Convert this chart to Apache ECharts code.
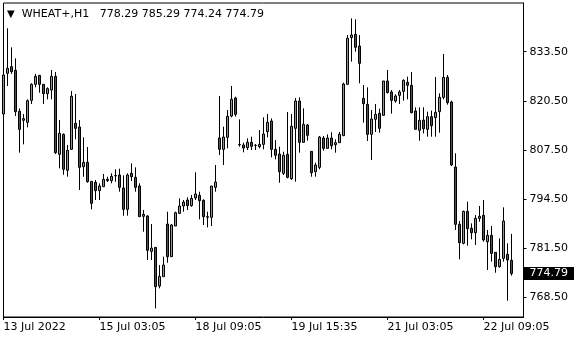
<!DOCTYPE html>
<html><head><meta charset="utf-8">
<script src="https://cdn.jsdelivr.net/npm/echarts@6/dist/echarts.min.js"></script>
<style>html,body{margin:0;padding:0;background:#fff}#c{width:580px;height:340px}</style>
</head><body><div id="c"></div>
<script>
const symbol = 'WHEAT+,H1';
const opens = [817.01,827.78,829.54,828.57,817.72,815.34,814.81,820.63,824.86,827.25,
824.86,822.39,823.36,826.98,806.34,811.63,802.10,807.66,814.54,813.57,
803.07,804.22,799.19,798.93,796.72,797.78,799.37,799.37,800.65,800.87,
797.43,791.78,801.31,800.25,797.96,789.93,790.01,780.66,781.72,771.49,
773.96,787.90,779.25,787.37,790.72,792.66,794.25,792.75,794.78,795.49,
794.16,789.84,789.66,797.60,810.66,807.66,810.84,816.48,821.25,808.95,
808.81,808.10,809.51,808.72,808.37,808.98,812.34,815.16,807.66,806.42,
801.31,806.34,799.90,813.22,820.45,809.51,814.10,807.13,801.75,802.90,
810.66,807.92,810.66,808.90,809.43,811.28,824.86,837.22,838.10,835.01,
821.16,819.57,811.63,815.60,817.19,816.66,825.75,822.84,820.45,821.95,
823.01,825.39,824.60,817.81,812.69,815.42,812.95,816.31,816.04,817.63,
821.42,826.72,820.19,802.98,787.81,782.78,791.25,786.75,785.60,789.40,
790.19,783.22,784.90,780.40,776.60,778.81,779.87,778.29];
const highs = [827.78,839.69,834.66,831.75,818.51,817.01,820.89,825.13,827.60,827.34,
824.95,824.07,828.66,828.13,815.42,811.89,808.81,823.10,822.31,815.42,
810.84,808.28,799.19,799.54,798.66,801.13,800.42,801.31,802.37,802.54,
800.78,801.31,803.95,802.90,798.66,791.60,790.28,787.90,781.72,777.04,
779.25,791.16,787.90,791.16,794.69,794.25,794.95,795.57,801.57,796.45,
794.43,791.16,797.96,803.51,821.78,813.66,818.07,824.42,821.60,815.60,
809.43,810.57,811.01,809.07,812.78,816.13,817.01,815.86,810.13,808.37,
807.04,817.54,817.01,821.25,821.42,818.51,814.37,807.13,804.13,811.19,
811.19,811.63,812.16,810.31,812.25,825.31,837.92,842.33,842.07,837.92,
824.69,824.07,818.07,819.66,818.42,825.75,828.66,823.36,822.22,823.36,
826.19,826.89,828.13,818.78,818.78,818.78,817.63,817.90,826.81,822.48,
832.89,827.34,820.54,806.60,788.69,791.43,793.81,788.07,790.28,792.66,
794.25,786.31,787.37,780.40,784.10,792.31,782.78,785.29];
const lows = [813.66,824.42,827.60,816.48,806.78,808.98,813.48,819.66,824.07,822.66,
819.66,820.89,820.89,806.42,802.63,800.95,800.42,807.48,810.31,796.90,
800.42,798.84,791.78,794.25,794.25,797.78,799.01,798.66,799.10,796.45,
790.10,790.10,799.28,796.45,789.84,785.87,778.37,778.37,765.57,770.87,
773.96,777.66,779.25,787.37,790.54,791.16,791.60,792.48,794.25,789.13,
787.63,787.01,787.37,796.45,806.16,803.51,807.92,816.13,816.31,808.37,
806.87,807.48,807.48,807.48,807.92,807.66,810.84,805.54,805.01,798.84,
800.87,799.98,799.54,799.10,806.78,809.43,809.95,800.42,800.42,802.37,
807.31,807.92,807.66,806.78,809.43,811.28,824.86,830.86,833.51,825.13,
814.72,809.87,804.84,812.25,812.07,816.66,822.48,817.10,820.01,819.66,
820.54,820.89,817.19,812.95,809.95,811.89,811.01,811.01,811.01,812.07,
820.89,819.48,803.25,786.31,778.54,782.51,782.16,783.84,782.34,788.51,
783.22,775.72,777.93,775.01,776.34,777.93,767.60,774.24];
const closes = [827.34,829.10,828.22,817.63,812.95,815.78,820.54,824.86,826.98,824.86,
822.39,823.72,826.98,806.78,811.89,802.37,807.40,821.69,813.22,802.90,
804.22,799.10,793.37,796.72,797.96,799.72,799.72,800.51,800.72,797.60,
791.78,800.87,800.42,797.60,789.84,790.46,780.93,781.54,771.31,774.04,
777.04,779.25,787.63,790.90,792.66,793.72,792.75,794.69,795.84,794.07,
789.84,789.70,797.96,799.01,807.66,810.92,816.39,820.89,816.92,808.85,
808.01,809.51,808.45,808.68,808.98,811.72,814.81,807.66,806.07,801.75,
806.07,800.25,813.75,820.45,809.51,814.28,811.37,801.48,803.51,810.92,
807.92,810.66,808.63,809.43,811.63,824.95,837.04,837.92,834.66,830.42,
819.75,811.63,815.69,816.92,813.22,825.75,822.66,820.63,821.78,822.84,
825.92,824.60,817.37,812.95,815.34,813.13,816.31,813.92,817.45,821.42,
826.72,820.01,803.51,787.81,782.96,791.25,786.66,785.60,789.40,789.93,
783.66,784.90,780.13,776.60,778.54,788.69,778.37,774.79];
const tickLabels = ['13 Jul 2022','15 Jul 03:05','18 Jul 09:05','19 Jul 15:35','21 Jul 03:05','22 Jul 09:05'];
const barsPerTick = 24;
const emptyBarsRight = 3;
const priceTicks = [768.50,781.50,794.50,807.50,820.50,833.50];
const priceMin = 763.29, priceMax = 846.39;

const n = closes.length;
const categories = [];
for (let i = 0; i < n + emptyBarsRight; i++) {
  categories.push(i % barsPerTick === 0 && tickLabels[i / barsPerTick] ? tickLabels[i / barsPerTick] : '');
}
const ohlc = opens.map((o, i) => [o, closes[i], lows[i], highs[i]]);
const last = n - 1;
const fmt = v => v.toFixed(2);
const FONT = 'DejaVu Sans';
const showTick = (idx, val) => val !== '';

const chart = echarts.init(document.getElementById('c'), null, {renderer: 'canvas'});
chart.setOption({
  animation: false,
  backgroundColor: '#fff',
  title: {
    text: '{t|▼}  ' + symbol + '   ' + [opens[last], highs[last], lows[last], closes[last]].map(fmt).join(' '),
    left: 2, top: 4,
    textStyle: {fontFamily: FONT, fontSize: 11, fontWeight: 'normal', color: '#000',
      rich: {t: {fontFamily: FONT, fontSize: 10, color: '#000'}}}
  },
  grid: {left: 3.5, right: 56.5, top: 3, bottom: 23, show: true, borderColor: '#000', borderWidth: 1, backgroundColor: '#fff'},
  xAxis: {
    type: 'category', data: categories, boundaryGap: false,
    axisLine: {lineStyle: {color: '#000', width: 1}},
    axisTick: {interval: showTick, length: 3, lineStyle: {color: '#000'}},
    axisLabel: {interval: showTick, align: 'left', margin: 5, color: '#000', fontFamily: FONT, fontSize: 11},
    splitLine: {show: false}
  },
  yAxis: [{
    type: 'value', position: 'right', min: priceMin, max: priceMax, scale: true,
    axisLine: {show: true, lineStyle: {color: '#000'}},
    axisTick: {show: true, customValues: priceTicks, length: 3, lineStyle: {color: '#000'}},
    axisLabel: {customValues: priceTicks, formatter: fmt, margin: 6, color: '#000', fontFamily: FONT, fontSize: 11},
    splitLine: {show: false}
  }, {
    type: 'value', position: 'right', min: priceMin, max: priceMax, scale: true,
    axisLine: {show: false}, axisTick: {show: false}, splitLine: {show: false},
    axisLabel: {customValues: [closes[last]], formatter: fmt, margin: 0, color: '#fff', backgroundColor: '#000',
      padding: [1, 6, 1, 6], fontFamily: FONT, fontSize: 11}
  }],
  series: [{
    type: 'candlestick', data: ohlc, barWidth: 2,
    itemStyle: {color: '#2fd62f', color0: '#dc1414', borderColor: '#000', borderColor0: '#000', borderColorDoji: '#000', borderWidth: 1}
  }]
});
</script></body></html>
